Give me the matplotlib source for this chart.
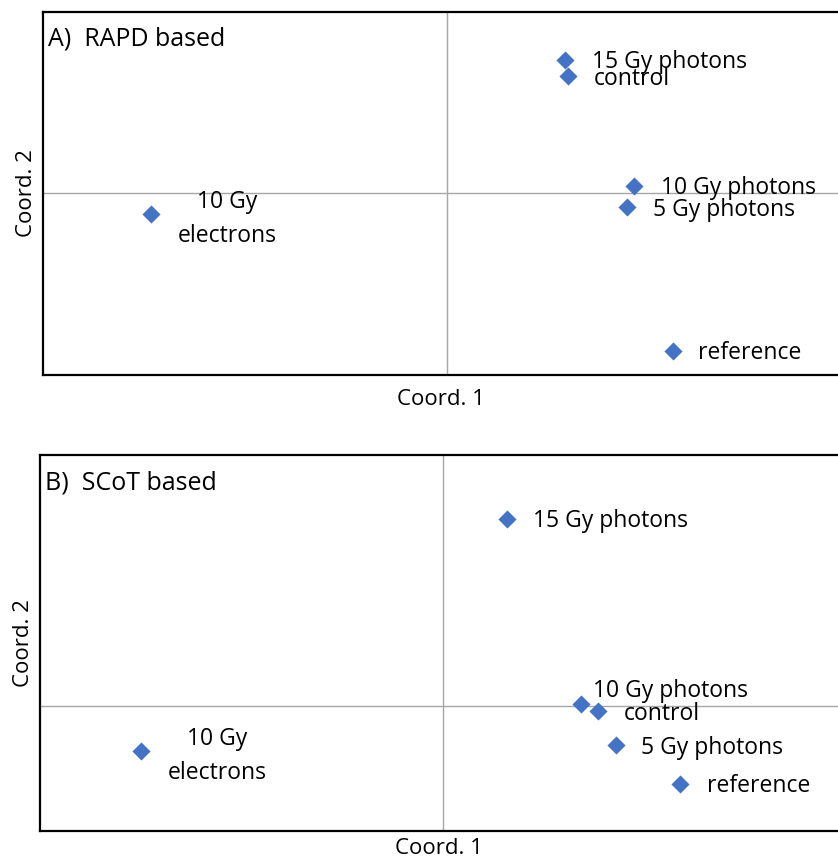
import matplotlib
matplotlib.use("Agg")
import matplotlib.pyplot as plt

# PCoA coordinates (Coord. 1, Coord. 2)
rapd_labels = ["15 Gy photons", "control", "10 Gy photons", "5 Gy photons", "reference", "10 Gy\nelectrons"]
rapd_c1 = [0.118, 0.121, 0.187, 0.180, 0.226, -0.296]
rapd_c2 = [0.133, 0.117, 0.007, -0.014, -0.158, -0.021]

scot_labels = ["15 Gy photons", "10 Gy photons", "control", "5 Gy photons", "reference", "10 Gy\nelectrons"]
scot_c1 = [0.064, 0.138, 0.155, 0.173, 0.237, -0.302]
scot_c2 = [0.187, 0.002, -0.005, -0.039, -0.078, -0.045]

# label offsets in pixels (dx, dy) relative to each marker
rapd_offsets = [(27, -2), (26, -3), (27, -2), (26, -3), (25, -2), (76, -5)]
scot_offsets = [(26, -2), (12, 13), (26, -3), (25, -3), (27, -2), (76, -5)]

FONT = "Open Sans"
BLUE = "#4472C4"

fig = plt.figure(figsize=(8.38, 8.64), dpi=100)
axA = fig.add_axes([43 / 838, 1 - 375 / 864, 1 - 43 / 838, (375 - 12) / 864])
axB = fig.add_axes([40 / 838, 1 - 831 / 864, 1 - 40 / 838, (831 - 455) / 864])


def draw(ax, c1, c2, labels, offsets, xlim, ylim, title, xpad):
    ax.set_xlim(*xlim)
    ax.set_ylim(*ylim)
    ax.axhline(0, color="#a6a6a6", lw=1.0, zorder=1)
    ax.axvline(0, color="#a6a6a6", lw=1.0, zorder=1)
    ax.scatter(c1, c2, marker="D", s=85, color=BLUE, zorder=3, linewidths=0)
    for x, y, lab, (dx, dy) in zip(c1, c2, labels, offsets):
        multi = "\n" in lab
        ax.annotate(lab, (x, y), xytext=(dx, dy), textcoords="offset pixels",
                    ha="center" if multi else "left", va="center",
                    fontsize=16.5, family=FONT, color="black",
                    linespacing=1.55, zorder=4)
    ax.set_xticks([])
    ax.set_yticks([])
    for side in ("left", "top", "bottom"):
        ax.spines[side].set_linewidth(1.6)
        ax.spines[side].set_color("black")
    ax.spines["right"].set_visible(False)
    ax.set_xlabel("Coord. 1", fontsize=16, family=FONT, labelpad=xpad)
    ax.set_ylabel("Coord. 2", fontsize=16, family=FONT, labelpad=4)
    ax.text(0.006, 0.925, title, transform=ax.transAxes, ha="left", va="center",
            fontsize=18, family=FONT)


draw(axA, rapd_c1, rapd_c2, rapd_labels, rapd_offsets,
     (-0.404, 0.391), (-0.182, 0.181), "A)  RAPD based", 10)
draw(axB, scot_c1, scot_c2, scot_labels, scot_offsets,
     (-0.403, 0.395), (-0.125, 0.251), "B)  SCoT based", 5)

fig.savefig("out.png", dpi=100)
